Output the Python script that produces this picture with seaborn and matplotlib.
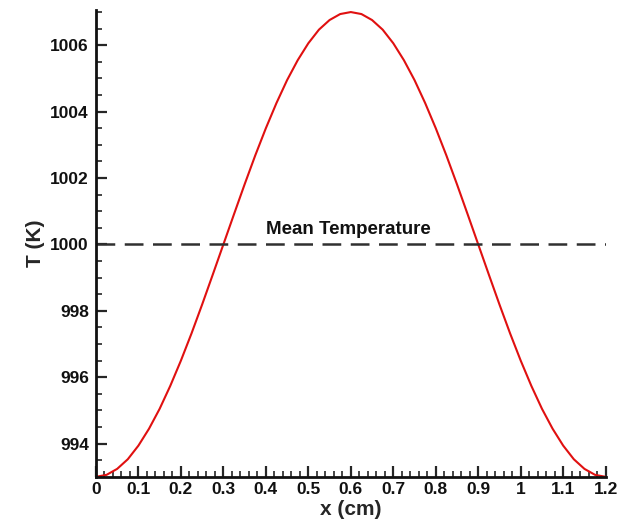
import matplotlib
matplotlib.use("Agg")
import matplotlib.pyplot as plt
import seaborn as sns
import pandas as pd
from matplotlib.ticker import MultipleLocator

# Data
x_cm = [0.000, 0.025, 0.050, 0.075, 0.100, 0.125, 0.150, 0.175, 0.200, 0.225,
        0.250, 0.275, 0.300, 0.325, 0.350, 0.375, 0.400, 0.425, 0.450, 0.475,
        0.500, 0.525, 0.550, 0.575, 0.600, 0.625, 0.650, 0.675, 0.700, 0.725,
        0.750, 0.775, 0.800, 0.825, 0.850, 0.875, 0.900, 0.925, 0.950, 0.975,
        1.000, 1.025, 1.050, 1.075, 1.100, 1.125, 1.150, 1.175, 1.200]
temp_K = [993.00, 993.06, 993.24, 993.53, 993.94, 994.45, 995.05, 995.74, 996.50, 997.32,
          998.19, 999.09, 1000.00, 1000.91, 1001.81, 1002.68, 1003.50, 1004.26, 1004.95, 1005.55,
          1006.06, 1006.47, 1006.76, 1006.94, 1007.00, 1006.94, 1006.76, 1006.47, 1006.06, 1005.55,
          1004.95, 1004.26, 1003.50, 1002.68, 1001.81, 1000.91, 1000.00, 999.09, 998.19, 997.32,
          996.50, 995.74, 995.05, 994.45, 993.94, 993.53, 993.24, 993.06, 993.00]
mean_x = [0.0, 1.2]
mean_T = [1000.0, 1000.0]
mean_label = "Mean Temperature"
x_ticks = [0, 0.1, 0.2, 0.3, 0.4, 0.5, 0.6, 0.7, 0.8, 0.9, 1.0, 1.1, 1.2]
x_tick_labels = ["0", "0.1", "0.2", "0.3", "0.4", "0.5", "0.6", "0.7", "0.8", "0.9", "1", "1.1", "1.2"]
y_ticks = [994, 996, 998, 1000, 1002, 1004, 1006]
y_tick_labels = ["994", "996", "998", "1000", "1002", "1004", "1006"]

sns.set_style("ticks")
plt.rcParams['font.family'] = ['Liberation Sans', 'DejaVu Sans']

fig = plt.figure(figsize=(6.27, 5.2), dpi=100)
ax = fig.add_axes([0.153, 0.083, 0.813, 0.897])

df = pd.DataFrame({"x": x_cm, "T": temp_K})
sns.lineplot(data=df, x="x", y="T", ax=ax, color="#e01010", linewidth=1.5, sort=False)
dm = pd.DataFrame({"x": mean_x, "T": mean_T})
sns.lineplot(data=dm, x="x", y="T", ax=ax, color="#303030", linewidth=1.8)
ax.lines[-1].set_dashes((7.5, 3.8))

ax.text(0.595, 1000.2, mean_label, ha="center", va="bottom", fontsize=13.5,
        fontweight="bold", color="#111111")

ax.set_xlim(0, 1.2)
ax.set_ylim(993.0, 1007.05)
ax.xaxis.set_minor_locator(MultipleLocator(0.02))
ax.yaxis.set_minor_locator(MultipleLocator(0.5))
ax.set_xticks(x_ticks)
ax.set_xticklabels(x_tick_labels)
ax.set_yticks(y_ticks)
ax.set_yticklabels(y_tick_labels)

ax.tick_params(which="major", direction="in", length=8, width=1.6, labelsize=12.5, pad=5)
ax.tick_params(axis="x", which="major", pad=4)
ax.tick_params(which="minor", direction="in", length=4.5, width=1.2)
for lab in ax.get_xticklabels() + ax.get_yticklabels():
    lab.set_fontweight("bold")
    lab.set_color("#111111")

ax.set_xlabel("x (cm)", fontsize=15, fontweight="bold", labelpad=2)
ax.set_ylabel("T (K)", fontsize=15, fontweight="bold", labelpad=4)

for side in ["top", "right"]:
    ax.spines[side].set_visible(False)
for side in ["left", "bottom"]:
    ax.spines[side].set_linewidth(2)
    ax.spines[side].set_color("#111111")

fig.savefig("out.png", dpi=100)
